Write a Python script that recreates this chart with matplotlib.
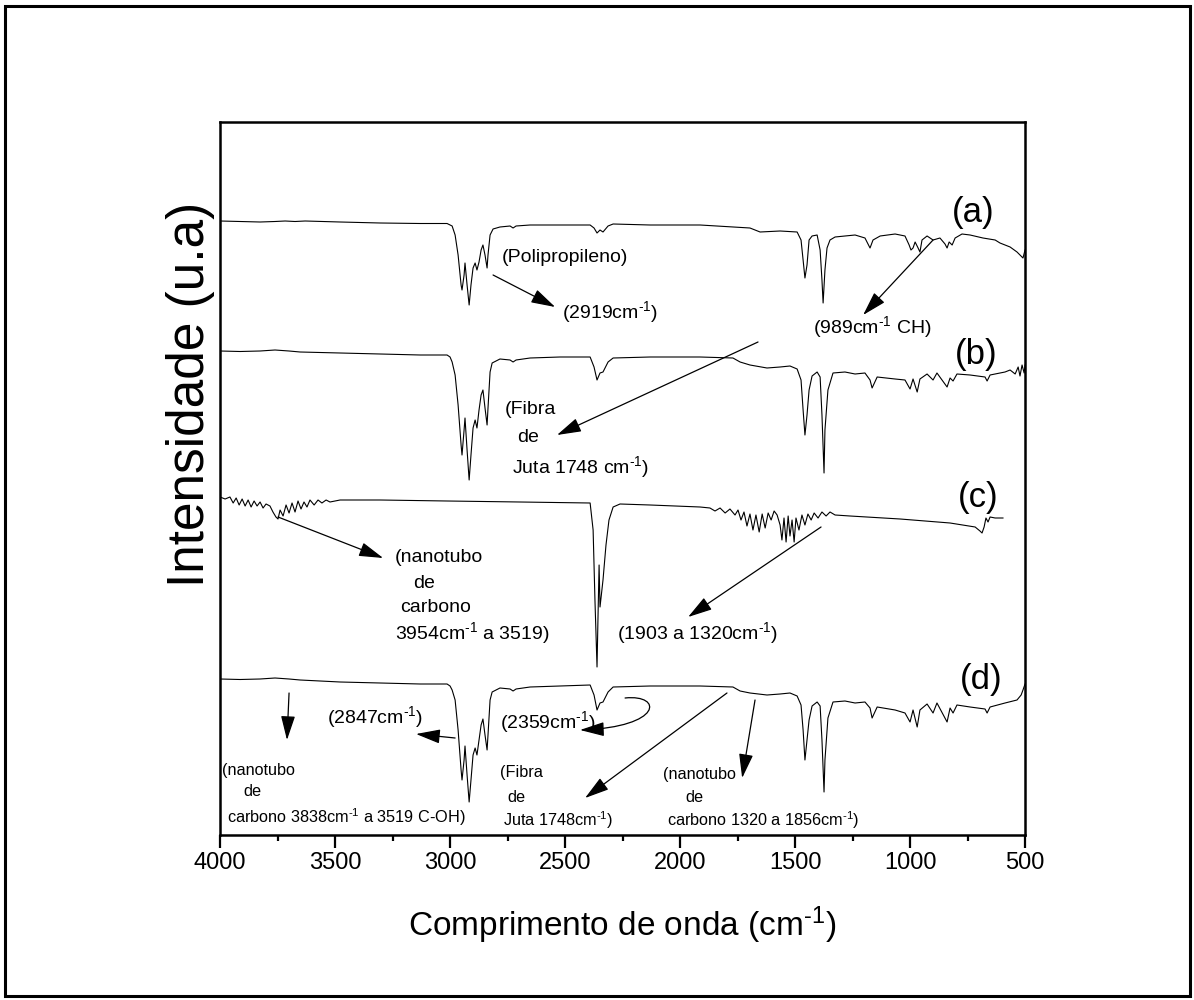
import matplotlib
matplotlib.use("Agg")
import matplotlib.pyplot as plt
from matplotlib.patches import Rectangle, FancyArrowPatch
from matplotlib.path import Path

plt.rcParams['font.family'] = ['Liberation Sans', 'DejaVu Sans']
plt.rcParams['mathtext.fontset'] = 'custom'
plt.rcParams['mathtext.rm'] = 'Liberation Sans'
plt.rcParams['mathtext.it'] = 'Liberation Sans:italic'
plt.rcParams['mathtext.bf'] = 'Liberation Sans:bold'

# ---- FTIR spectra (wavenumber in cm-1, intensity in arbitrary units, stacked) ----
# (a) polipropileno
wn_a = [4000, 3913, 3826, 3761, 3717, 3674, 3630, 3478, 3304, 3130, 3013, 2991, 2978, 2965,
        2952, 2948, 2939, 2935, 2926, 2917, 2909, 2900, 2891, 2883, 2874, 2865, 2857, 2848,
        2839, 2835, 2826, 2813, 2783, 2739, 2726, 2713, 2652, 2522, 2391, 2374, 2361, 2348,
        2335, 2313, 2291, 2130, 1913, 1696, 1652, 1565, 1491, 1474, 1465, 1457, 1448, 1439,
        1426, 1404, 1391, 1383, 1378, 1370, 1361, 1348, 1326, 1283, 1239, 1196, 1174, 1161,
        1130, 1065, 1022, 1004, 996, 987, 978, 965, 957, 948, 926, 900, 870, 848, 839, 830,
        817, 804, 774, 739, 683, 630, 609, 587, 565, 535, 522, 509, 500]
int_a = [61.4, 61.35, 61.3, 61.35, 61.4, 61.35, 61.4, 61.3, 61.2, 61.15, 61.15, 60.9, 60.0, 58.0,
         55.0, 54.5, 56.0, 57.2, 55.0, 53.0, 55.0, 56.7, 57.2, 56.5, 57.3, 58.5, 59.0, 58.0,
         56.7, 58.0, 60.0, 60.6, 60.8, 60.9, 60.7, 60.9, 61.0, 61.0, 61.0, 60.7, 60.2, 60.5,
         60.3, 60.9, 61.1, 61.0, 61.0, 60.7, 60.3, 60.4, 60.3, 59.5, 57.5, 55.7, 57.0, 59.5,
         59.9, 60.0, 58.5, 55.5, 53.2, 56.5, 58.7, 59.5, 59.8, 59.9, 60.0, 59.7, 58.7, 59.5,
         59.9, 60.1, 59.9, 59.0, 58.5, 58.7, 59.3, 58.7, 58.3, 59.5, 59.9, 59.5, 59.7, 59.1, 58.7, 59.3,
         59.0, 59.7, 60.1, 60.0, 59.7, 59.5, 59.2, 59.0, 58.8, 58.3, 58.0, 57.7, 58.5]

# (b) fibra de juta
wn_b = [4000, 3913, 3826, 3761, 3700, 3652, 3478, 3304, 3130, 3013, 3000, 2991, 2978, 2965,
        2952, 2948, 2939, 2935, 2926, 2917, 2909, 2900, 2891, 2883, 2874, 2865, 2857, 2848,
        2839, 2835, 2826, 2817, 2783, 2739, 2726, 2713, 2652, 2522, 2391, 2374, 2361, 2348,
        2335, 2313, 2291, 2130, 1913, 1770, 1739, 1696, 1622, 1565, 1522, 1491, 1474, 1465,
        1457, 1448, 1439, 1426, 1404, 1391, 1383, 1374, 1370, 1357, 1335, 1283, 1239, 1196,
        1174, 1165, 1143, 1065, 1022, 1000, 987, 969, 957, 926, 900, 883, 839, 826, 813, 796,
        739, 674, 665, 652, 587, 565, 543, 530, 522, 513, 504, 500]
int_b = [48.4, 48.35, 48.4, 48.5, 48.4, 48.3, 48.2, 48.1, 48.0, 48.0, 47.8, 47.3, 46.0, 43.0,
         39.0, 38.0, 40.5, 41.7, 38.5, 35.5, 38.0, 40.7, 41.5, 40.7, 42.5, 44.0, 44.5, 42.7,
         41.0, 42.7, 46.3, 47.2, 47.6, 47.5, 47.3, 47.5, 47.7, 47.8, 47.8, 46.8, 45.5, 46.2,
         46.3, 47.3, 47.7, 47.8, 47.8, 47.7, 47.3, 47.0, 46.7, 46.8, 46.9, 46.6, 45.5, 42.5,
         40.0, 42.0, 44.5, 45.9, 46.3, 45.8, 42.0, 36.2, 40.5, 44.5, 46.2, 46.3, 46.1, 46.2,
         45.5, 44.7, 45.8, 45.6, 45.5, 44.6, 45.6, 44.3, 45.6, 46.1, 45.5, 46.2, 44.8, 45.7, 45.4, 46.1,
         46.0, 45.8, 45.4, 46.0, 46.3, 46.5, 46.1, 46.8, 45.9, 47.0, 46.2, 47.0]

# (c) nanotubo de carbono
wn_c = [4000, 3978, 3957, 3943, 3930, 3917, 3904, 3891, 3878, 3865, 3852, 3839, 3826, 3813,
        3800, 3783, 3770, 3757, 3748, 3739, 3726, 3713, 3700, 3687, 3674, 3661, 3648, 3635,
        3622, 3609, 3591, 3574, 3557, 3539, 3522, 3478, 3304, 3013, 2696, 2391, 2378, 2370,
        2361, 2357, 2352, 2348, 2335, 2322, 2309, 2291, 2261, 2130, 1913, 1870, 1848, 1826,
        1804, 1783, 1761, 1748, 1735, 1722, 1709, 1696, 1683, 1670, 1656, 1643, 1630, 1617,
        1604, 1591, 1578, 1565, 1557, 1548, 1539, 1530, 1522, 1513, 1504, 1496, 1483, 1470,
        1457, 1444, 1430, 1417, 1400, 1383, 1365, 1348, 1326, 1261, 1043, 826, 717, 696, 687,
        678, 670, 661, 652, 630, 596]
int_c = [33.8, 33.6, 33.8, 33.2, 33.7, 33.0, 33.6, 32.9, 33.5, 32.8, 33.4, 32.9, 33.3, 32.7,
         33.1, 32.9, 32.3, 31.8, 31.6, 32.5, 31.9, 33.0, 32.2, 33.2, 32.3, 33.4, 32.6, 33.3,
         32.8, 33.5, 33.0, 33.5, 33.2, 33.5, 33.3, 33.5, 33.5, 33.4, 33.3, 33.2, 30.5, 23.5,
         16.8, 21.5, 27.0, 22.8, 25.5, 29.0, 31.5, 32.8, 33.1, 33.0, 32.8, 32.7, 32.4, 32.7,
         32.2, 32.6, 32.0, 32.5, 31.5, 32.3, 30.9, 32.1, 30.5, 32.0, 30.3, 32.1, 30.7, 32.2,
         31.5, 32.4, 32.0, 31.0, 29.5, 31.7, 29.3, 31.9, 29.9, 31.5, 29.3, 31.7, 30.5, 32.0,
         31.0, 32.1, 31.5, 32.2, 31.7, 32.3, 31.9, 32.3, 32.0, 31.9, 31.6, 31.2, 30.8, 30.4, 30.2,
         30.8, 31.7, 31.3, 31.8, 31.7, 31.7]

# (d) compósito PP / juta / nanotubo
wn_d = [4000, 3913, 3826, 3761, 3700, 3652, 3478, 3304, 3130, 3013, 3000, 2991, 2978, 2965,
        2952, 2948, 2939, 2935, 2926, 2917, 2909, 2900, 2891, 2883, 2874, 2865, 2857, 2848,
        2839, 2835, 2826, 2817, 2783, 2739, 2726, 2713, 2652, 2522, 2391, 2374, 2361, 2348,
        2335, 2313, 2291, 2130, 1913, 1770, 1739, 1696, 1622, 1565, 1522, 1491, 1474, 1465,
        1457, 1448, 1439, 1426, 1404, 1391, 1383, 1374, 1370, 1357, 1335, 1283, 1239, 1196,
        1174, 1165, 1143, 1065, 1022, 1000, 987, 969, 957, 926, 900, 883, 839, 826, 813, 796,
        739, 674, 665, 652, 587, 535, 517, 509, 500]
int_d = [15.6, 15.55, 15.6, 15.7, 15.6, 15.5, 15.3, 15.2, 15.1, 15.1, 14.9, 14.5, 13.5, 10.5,
         6.5, 5.5, 7.5, 8.9, 6.0, 3.3, 5.5, 8.0, 8.7, 8.0, 9.5, 11.0, 11.6, 10.0,
         8.5, 10.0, 13.5, 14.3, 14.7, 14.6, 14.4, 14.6, 14.8, 14.9, 15.0, 14.0, 12.5, 13.2,
         13.3, 14.3, 14.8, 14.9, 14.9, 14.8, 14.4, 14.2, 14.0, 14.1, 14.2, 13.9, 13.0, 10.5,
         7.5, 9.5, 11.5, 12.9, 13.3, 12.9, 9.5, 4.3, 7.5, 11.7, 13.3, 13.4, 13.2, 13.3,
         12.7, 11.7, 12.8, 12.5, 12.2, 11.3, 12.5, 10.8, 12.5, 13.1, 12.2, 13.2, 11.3, 12.7, 12.2, 13.0,
         12.8, 12.6, 12.2, 12.8, 13.2, 13.5, 14.0, 14.5, 15.1]

x_ticks = [4000, 3500, 3000, 2500, 2000, 1500, 1000, 500]
x_tick_labels = ['4000', '3500', '3000', '2500', '2000', '1500', '1000', '500']

fig = plt.figure(figsize=(11.94, 10.0), dpi=100)
ax = fig.add_axes([0.1843, 0.165, 0.6742, 0.713])

for wn, yi in [(wn_a, int_a), (wn_b, int_b), (wn_c, int_c), (wn_d, int_d)]:
    ax.plot(wn, yi, color='black', lw=0.8)

ax.set_xlim(4000, 500)
ax.set_ylim(0, 71.3)
ax.set_xticks(x_ticks)
ax.set_xticklabels(x_tick_labels)
ax.set_xticks([3750, 3250, 2750, 2250, 1750, 1250, 750], minor=True)
ax.set_yticks([])
ax.tick_params(axis='x', which='major', direction='out', length=9, width=1.6,
               labelsize=17, pad=3, top=False)
ax.tick_params(axis='x', which='minor', direction='out', length=4.5, width=1.6, top=False)
for sp in ax.spines.values():
    sp.set_linewidth(1.8)

SUP = r'$^{\text{-1}}$'

ax.set_xlabel('Comprimento de onda (cm' + SUP + ')', fontsize=24, labelpad=22)
ax.set_ylabel('Intensidade (u.a)', fontsize=37)
ax.yaxis.set_label_coords(-0.006, 0.618)

# ---- annotations ----
big = 14
small = 11.7
arrow_style = '-|>,head_length=0.75,head_width=0.22'


def arrow(x0, y0, x1, y1):
    ax.annotate('', xy=(x1, y1), xytext=(x0, y0),
                arrowprops=dict(arrowstyle=arrow_style, color='black', lw=0.9,
                                shrinkA=0, shrinkB=0, mutation_scale=20))


def label(x, y, s, size):
    ax.text(x, y, s, fontsize=size, ha='left', va='center')


# (a)
label(2774, 57.7, '(Polipropileno)', big)
arrow(2813, 56.0, 2543, 52.8)
label(2513, 52.3, '(2919cm' + SUP + ')', big)
label(817, 62.2, '(a)', 25)
arrow(900, 59.5, 1204, 52.0)
label(1422, 50.8, '(989cm' + SUP + ' CH)', big)

# (b)
label(804, 48.0, '(b)', 25)
arrow(1661, 49.3, 2535, 40.0)
label(2761, 42.5, '(Fibra', big)
label(2709, 39.8, 'de', big)
label(2730, 36.8, 'Juta 1748 cm' + SUP + ')', big)

# (c)
label(791, 33.8, '(c)', 25)
arrow(3748, 31.8, 3291, 27.7)
label(3239, 27.7, '(nanotubo', big)
label(3161, 25.2, 'de', big)
label(3217, 22.7, 'carbono', big)
label(3239, 20.2, '3954cm' + SUP + ' a 3519)', big)
arrow(1387, 30.8, 1965, 21.8)
label(2274, 20.2, '(1903 a 1320cm' + SUP + ')', big)

# (d)
label(783, 15.5, '(d)', 25)
arrow(3700, 14.2, 3709, 9.5)
label(3991, 6.5, '(nanotubo', small)
label(3900, 4.3, 'de', small)
label(3970, 1.8, 'carbono 3838cm' + SUP + ' a 3519 C-OH)', small)
label(3535, 11.8, '(2847cm' + SUP + ')', big)
arrow(2978, 9.7, 3148, 10.1)
label(2783, 11.3, '(2359cm' + SUP + ')', big)
loop = Path([(2239, 13.7), (2074, 14.1), (2074, 10.8), (2435, 10.5)],
            [Path.MOVETO, Path.CURVE4, Path.CURVE4, Path.CURVE4])
ax.add_patch(FancyArrowPatch(path=loop, arrowstyle=arrow_style, color='black', lw=0.9,
                             mutation_scale=20))
arrow(1796, 14.2, 2413, 3.7)
label(2783, 6.2, '(Fibra', small)
label(2752, 3.8, 'de', small)
label(2770, 1.5, 'Juta 1748cm' + SUP + ')', small)
arrow(1674, 13.5, 1730, 5.7)
label(2074, 6.0, '(nanotubo', small)
label(1978, 3.8, 'de', small)
label(2057, 1.5, 'carbono 1320 a 1856cm' + SUP + ')', small)

# page frame around the figure
fig.add_artist(Rectangle((0.004, 0.004), 0.9925, 0.9905, transform=fig.transFigure,
                         fill=False, edgecolor='black', lw=2.2))

fig.savefig('out.png', dpi=100)
